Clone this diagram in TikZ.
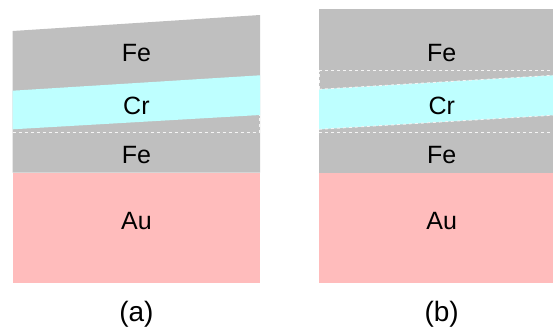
\documentclass[tikz,border=0pt]{standalone}
\usepackage{fontspec}
\setmainfont{Liberation Sans}
\definecolor{fegray}{RGB}{191,191,191}
\definecolor{crcyan}{RGB}{190,255,255}
\definecolor{aupink}{RGB}{255,188,188}
\tikzset{
  fe/.style={fill=fegray, draw=none},
  cr/.style={fill=crcyan, draw=none},
  au/.style={fill=aupink, draw=none},
  iface/.style={draw=white!92!gray, line width=0.9pt, dash pattern=on 3pt off 3pt},
  layerlabel/.style={font=\fontsize{25}{28}\selectfont, inner sep=0pt},
  caption/.style={font=\fontsize{28}{32}\selectfont, inner sep=0pt}
}
\begin{document}
\begin{tikzpicture}[x=1pt, y=-1pt]
\useasboundingbox (0,0) rectangle (553,330);

% ---------- (a) tilted Cr spacer with tilted top Fe ----------
\fill[fe] (12.7,172.7) -- (12.7,31) -- (260,15) -- (260,172.7) -- cycle;
\fill[cr] (12.7,90.7) -- (260,75.3) -- (260,115) -- (12.7,129.3) -- cycle;
\fill[au] (12.7,172.7) rectangle (260,283.3);
\draw[iface] (12.7,132.3) -- (259.5,132.3) -- (259.5,115);
\node[layerlabel] (fea) at (136.4,53) {Fe};
\node[layerlabel] (cra) at (136.4,106) {Cr};
\node[layerlabel] (feba) at (136.4,155) {Fe};
\node[layerlabel] (aua) at (136.4,221) {Au};
\node[caption] (capa) at (136.4,314) {(a)};

% ---------- (b) tilted Cr spacer inside flat Fe ----------
\begin{scope}
\clip (319,0) rectangle (553,330);
\fill[fe] (319,9.3) rectangle (572,172.7);
\fill[cr] (319,89.3) -- (572,74.2) -- (572,114.1) -- (319,129.3) -- cycle;
\fill[au] (319,172.7) rectangle (572,283.3);
\draw[iface] (319,89.3) -- (572,74.2);
\draw[iface] (319,129.3) -- (572,114.1);
\draw[iface] (319.5,89.3) -- (319.5,70.7) -- (572,70.7);
\draw[iface] (319,132.3) -- (572,132.3);
\end{scope}
\node[layerlabel] (feb) at (441.7,53) {Fe};
\node[layerlabel] (crb) at (441.7,106) {Cr};
\node[layerlabel] (febb) at (441.7,155) {Fe};
\node[layerlabel] (aub) at (441.7,221) {Au};
\node[caption] (capb) at (441.7,314) {(b)};
\end{tikzpicture}
\end{document}
